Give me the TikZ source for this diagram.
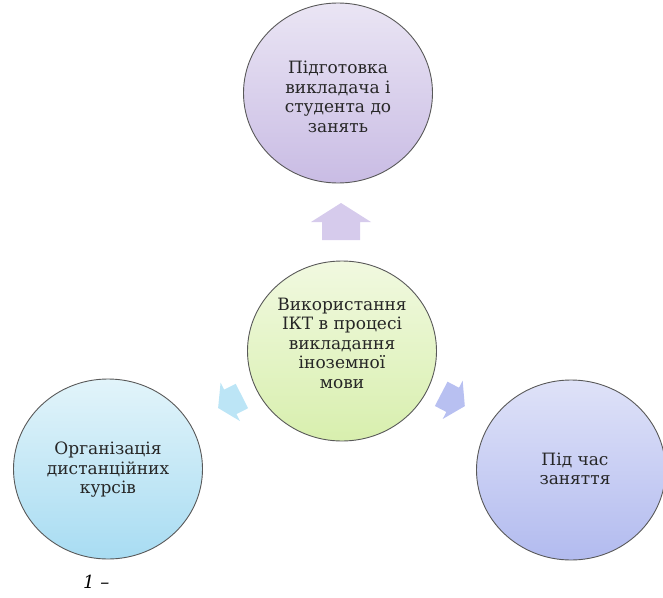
\documentclass[tikz,border=0pt]{standalone}
\usepackage{fontspec}
\setmainfont{DejaVu Serif}
\newfontfamily\serifcyr{DejaVu Serif}
\usetikzlibrary{shapes.geometric}
\definecolor{topA}{HTML}{EAE5F4}
\definecolor{topB}{HTML}{C9BCE4}
\definecolor{midA}{HTML}{F1F9E0}
\definecolor{midB}{HTML}{D8EFAE}
\definecolor{leftA}{HTML}{E2F4FA}
\definecolor{leftB}{HTML}{A8DCF2}
\definecolor{rightA}{HTML}{DFE2F8}
\definecolor{rightB}{HTML}{B2BBEF}
\definecolor{upArr}{HTML}{D6CBEC}
\definecolor{leftArr}{HTML}{BCE5F6}
\definecolor{rightArr}{HTML}{B8C0F1}
\definecolor{txt}{HTML}{262626}
\begin{document}
\begin{tikzpicture}[x=1pt,y=-1pt,
  bubble/.style={ellipse, draw=black!65, line width=0.9pt, minimum width=189pt, minimum height=180pt, inner sep=0pt},
  bubbletext/.style={align=center, inner sep=0pt, text=txt, font=\serifcyr\fontsize{17}{19.5}\selectfont},
  blockarrow/.pic={\fill[#1] (0,-18.5) -- (30,0.5) -- (19,0.5) -- (19,18.5) -- (-19,18.5) -- (-19,0.5) -- (-30,0.5) -- cycle;}
  ]
\useasboundingbox (0,0) rectangle (663,597);
% circles
\node[bubble, top color=topA, bottom color=topB] (prep) at (338,93) {};
\node[bubble, top color=midA, bottom color=midB] (ict) at (342,351) {};
\node[bubble, top color=leftA, bottom color=leftB] (dist) at (108,469) {};
\node[bubble, top color=rightA, bottom color=rightB] (lesson) at (571,470) {};
% texts
\node[bubbletext] (prept) at (338,97) {Підготовка\\викладача і\\студента до\\занять};
\node[bubbletext] (ictt) at (342,343) {Використання\\ІКТ в процесі\\викладання\\іноземної\\мови};
\node[bubbletext] (distt) at (108,470) {Організація\\дистанційних\\курсів};
\node[bubbletext] (lessont) at (575,469) {Під час\\заняття};
% block arrows
\pic at (341,221.5) {blockarrow=upArr};
\pic[rotate=116.8, scale=0.72] at (230,402) {blockarrow=leftArr};
\pic[rotate=-117.5, scale=0.72] at (453,400) {blockarrow=rightArr};
% caption
\node[anchor=base west, inner sep=0pt, text=black, font=\serifcyr\itshape\fontsize{18}{24}\selectfont] (cap) at (83,588) {1 –};
\end{tikzpicture}
\end{document}
